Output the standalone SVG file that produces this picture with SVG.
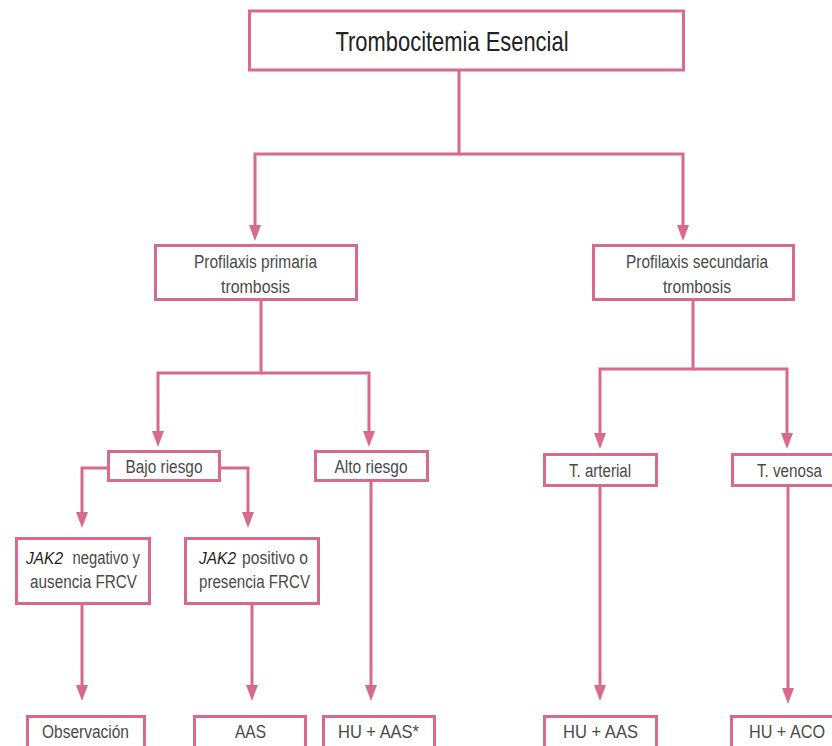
<svg xmlns="http://www.w3.org/2000/svg" width="832" height="746" viewBox="0 0 832 746">
<defs>
<style>
.box{fill:#fff;stroke:#d86a8c;stroke-width:3}
.ln{fill:none;stroke:#d86a8c;stroke-width:3;marker-end:url(#ah)}
.t{font-family:"Liberation Sans",Arial,sans-serif;font-size:18px;fill:#4a4a4a;text-anchor:middle}
.tl{font-family:"Liberation Sans",Arial,sans-serif;font-size:18px;fill:#4a4a4a}
.it{font-family:"Liberation Sans",Arial,sans-serif;font-size:17px;fill:#1e1e1e;font-style:italic}
.title{font-family:"Liberation Sans",Arial,sans-serif;font-size:28px;fill:#222;text-anchor:middle}
</style>
<marker id="ah" markerUnits="userSpaceOnUse" markerWidth="16" markerHeight="12" refX="7" refY="6" orient="auto" viewBox="0 0 16 12">
<path d="M0,0 L16,6 L0,12 z" fill="#d86a8c"/>
</marker>
</defs>
<rect width="832" height="746" fill="#fff"/>
<g id="connectors">
<path class="ln" d="M459,70 V154 H255 V232"/>
<path class="ln" d="M459,154 H683 V232"/>
<path class="ln" d="M261,300 V373 H158 V438"/>
<path class="ln" d="M261,373 H369 V438"/>
<path class="ln" d="M108,468 H82 V519"/>
<path class="ln" d="M220,468 H248 V519"/>
<path class="ln" d="M82,604 V692"/>
<path class="ln" d="M252,604 V692"/>
<path class="ln" d="M371,481 V692"/>
<path class="ln" d="M693,300 V369 H600 V440"/>
<path class="ln" d="M693,369 H787 V440"/>
<path class="ln" d="M600,486 V692"/>
<path class="ln" d="M788,486 V695"/>
</g>
<g id="n-title">
<rect class="box" x="249.5" y="11" width="434" height="59"/>
<text class="title" x="452" y="51" textLength="233" lengthAdjust="spacingAndGlyphs">Trombocitemia Esencial</text>
</g>
<g id="n-primaria">
<rect class="box" x="155.5" y="245.5" width="201" height="54"/>
<text class="t" x="255.5" y="268" textLength="123" lengthAdjust="spacingAndGlyphs">Profilaxis primaria</text>
<text class="t" x="255.5" y="293" textLength="69" lengthAdjust="spacingAndGlyphs">trombosis</text>
</g>
<g id="n-secundaria">
<rect class="box" x="593.5" y="245.5" width="200" height="54"/>
<text class="t" x="697" y="268" textLength="142" lengthAdjust="spacingAndGlyphs">Profilaxis secundaria</text>
<text class="t" x="697" y="293" textLength="68" lengthAdjust="spacingAndGlyphs">trombosis</text>
</g>
<g id="n-bajo">
<rect class="box" x="108.5" y="451.5" width="111" height="29"/>
<text class="t" x="164" y="473" textLength="77" lengthAdjust="spacingAndGlyphs">Bajo riesgo</text>
</g>
<g id="n-alto">
<rect class="box" x="315.5" y="451.5" width="112" height="29"/>
<text class="t" x="371" y="473" textLength="73" lengthAdjust="spacingAndGlyphs">Alto riesgo</text>
</g>
<g id="n-arterial">
<rect class="box" x="544.5" y="454.5" width="112" height="31"/>
<text class="t" x="600" y="477" textLength="62" lengthAdjust="spacingAndGlyphs">T. arterial</text>
</g>
<g id="n-venosa">
<rect class="box" x="732.5" y="454.5" width="120" height="31"/>
<text class="t" x="789.5" y="477" textLength="65" lengthAdjust="spacingAndGlyphs">T. venosa</text>
</g>
<g id="n-jak2neg">
<rect class="box" x="16.5" y="538.5" width="133" height="65"/>
<text class="it" x="26" y="564" textLength="37" lengthAdjust="spacingAndGlyphs">JAK2</text>
<text class="tl" x="72.5" y="564" textLength="67.5" lengthAdjust="spacingAndGlyphs">negativo y</text>
<text class="t" x="83.5" y="588" textLength="107" lengthAdjust="spacingAndGlyphs">ausencia FRCV</text>
</g>
<g id="n-jak2pos">
<rect class="box" x="185.5" y="538.5" width="133" height="65"/>
<text class="it" x="199" y="564" textLength="37" lengthAdjust="spacingAndGlyphs">JAK2</text>
<text class="tl" x="242" y="564" textLength="66" lengthAdjust="spacingAndGlyphs">positivo o</text>
<text class="t" x="254.5" y="588" textLength="111" lengthAdjust="spacingAndGlyphs">presencia FRCV</text>
</g>
<g id="n-observacion">
<rect class="box" x="27.5" y="716.5" width="117" height="45"/>
<text class="t" x="85.5" y="738" textLength="87" lengthAdjust="spacingAndGlyphs">Observación</text>
</g>
<g id="n-aas">
<rect class="box" x="194.5" y="716.5" width="111" height="45"/>
<text class="t" x="250.5" y="738" textLength="31" lengthAdjust="spacingAndGlyphs">AAS</text>
</g>
<g id="n-huaas-star">
<rect class="box" x="323.5" y="716.5" width="111" height="45"/>
<text class="t" x="378.5" y="738" textLength="81" lengthAdjust="spacingAndGlyphs">HU + AAS*</text>
</g>
<g id="n-huaas">
<rect class="box" x="544.5" y="716.5" width="112" height="45"/>
<text class="t" x="600.5" y="738" textLength="75" lengthAdjust="spacingAndGlyphs">HU + AAS</text>
</g>
<g id="n-huaco">
<rect class="box" x="731.5" y="716.5" width="120" height="45"/>
<text class="t" x="787" y="738" textLength="76" lengthAdjust="spacingAndGlyphs">HU + ACO</text>
</g>
</svg>
